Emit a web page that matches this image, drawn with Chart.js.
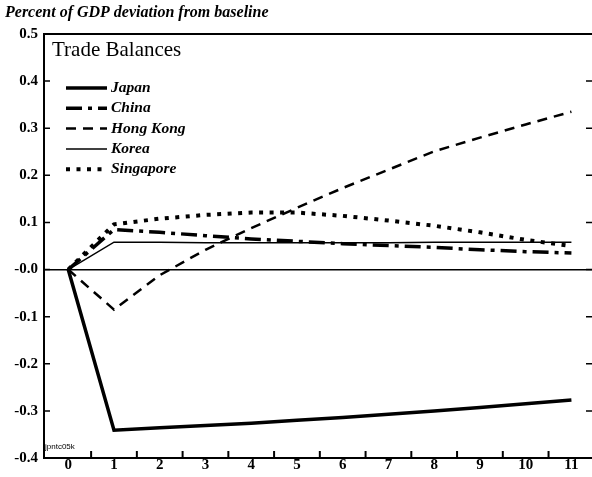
<!DOCTYPE html>
<html><head><meta charset="utf-8">
<script src="https://cdn.jsdelivr.net/npm/chart.js@4/dist/chart.umd.min.js"></script>
<style>html,body{margin:0;padding:0;background:#fff}#wrap{width:592px;height:477px}</style>
</head><body><div id="wrap"><canvas id="c" width="592" height="477"></canvas></div>
<script>
const categories = ['0','1','2','3','4','5','6','7','8','9','10','11'];
const periods = [0,1,2,3,4,5,6,7,8,9,10,11];
const japan     = [0,-0.341,-0.336,-0.331,-0.326,-0.320,-0.314,-0.307,-0.300,-0.293,-0.285,-0.277];
const china     = [0,0.085,0.079,0.072,0.065,0.060,0.055,0.051,0.047,0.042,0.038,0.035];
const hongKong  = [0,-0.085,-0.012,0.042,0.088,0.131,0.173,0.212,0.251,0.280,0.308,0.335];
const korea     = [0,0.058,0.058,0.057,0.057,0.057,0.057,0.057,0.058,0.058,0.058,0.058];
const singapore = [0,0.096,0.108,0.116,0.121,0.121,0.114,0.104,0.093,0.079,0.063,0.050];
const seriesNames = ['Japan','China','Hong Kong','Korea','Singapore'];
const yTickValues = [0.5,0.4,0.3,0.2,0.1,0,-0.1,-0.2,-0.3,-0.4];
const yTickLabels = ['0.5','0.4','0.3','0.2','0.1','-0.0','-0.1','-0.2','-0.3','-0.4'];
const chartTitle = 'Percent of GDP deviation from baseline';
const panelTitle = 'Trade Balances';
const sourceCode = 'jpntc05k';

const styles = [
  {borderWidth:3.5, borderDash:[]},
  {borderWidth:3.5, borderDash:[16,6,4,6]},
  {borderWidth:2.5, borderDash:[10,7]},
  {borderWidth:1.5, borderDash:[]},
  {borderWidth:4, borderDash:[4,6.5]}
];
const seriesData = [japan, china, hongKong, korea, singapore];

const datasets = seriesData.map((d,i)=>({
  label: seriesNames[i],
  data: d,
  borderColor:'#000',
  backgroundColor:'#000',
  borderWidth: styles[i].borderWidth,
  borderDash: styles[i].borderDash,
  pointRadius:0,
  tension:0,
  fill:false
}));

const decor = {
  id:'decor',
  afterDraw(chart){
    const {ctx, chartArea:a, scales:{x,y}} = chart;
    ctx.save();
    ctx.strokeStyle='#000';
    ctx.lineWidth=2;
    ctx.beginPath(); ctx.moveTo(a.left,a.top); ctx.lineTo(a.right,a.top); ctx.stroke();
    ctx.lineWidth=1.5;
    yTickValues.forEach(v=>{
      const py=y.getPixelForValue(v);
      ctx.beginPath();
      ctx.moveTo(a.left,py); ctx.lineTo(a.left+6,py);
      ctx.moveTo(a.right,py); ctx.lineTo(a.right-6,py);
      ctx.stroke();
    });
    ctx.lineWidth=2;
    for(let i=0;i<periods.length-1;i++){
      const px=x.getPixelForValue(periods[i]+0.5);
      ctx.beginPath(); ctx.moveTo(px,a.bottom); ctx.lineTo(px,a.bottom-7); ctx.stroke();
    }
    ctx.fillStyle='#000';
    ctx.textBaseline='alphabetic';
    ctx.font='italic bold 16px "Liberation Serif"';
    ctx.fillText(chartTitle,5,17);
    ctx.font='21px "Liberation Serif"';
    ctx.fillText(panelTitle,a.left+8,a.top+22);
    // legend
    chart.data.datasets.forEach((ds,i)=>{
      const ly = 88 + i*20.3;
      ctx.save();
      ctx.lineWidth = ds.borderWidth;
      ctx.setLineDash(ds.borderDash||[]);
      ctx.beginPath(); ctx.moveTo(66,ly); ctx.lineTo(107,ly); ctx.stroke();
      ctx.restore();
      ctx.font='italic bold 15.5px "Liberation Serif"';
      ctx.textBaseline='middle';
      ctx.fillText(ds.label,111,ly);
    });
    ctx.textBaseline='alphabetic';
    ctx.font='8px "Liberation Sans"';
    ctx.fillText(sourceCode,a.left+1,a.bottom-9);
    ctx.restore();
  }
};

new Chart(document.getElementById('c'),{
  type:'line',
  data:{labels:periods, datasets},
  options:{
    responsive:false, animation:false, devicePixelRatio:1,
    layout:{padding:{top:34,right:0,left:0,bottom:0}},
    plugins:{legend:{display:false},tooltip:{enabled:false},title:{display:false}},
    scales:{
      x:{
        type:'linear', min:-0.53, max:11.45,
        afterBuildTicks(s){ s.ticks = periods.map(v=>({value:v})); },
        afterFit(s){ s.height = 19; },
        grid:{display:false, drawTicks:false, tickLength:0},
        border:{display:true,color:'#000',width:2},
        ticks:{padding:0, color:'#000', font:{family:'"Liberation Serif"', size:15, weight:'bold', lineHeight:1},
          callback:(v,i)=>categories[i], maxRotation:0, autoSkip:false}
      },
      y:{
        min:-0.4, max:0.5,
        afterBuildTicks(s){ s.ticks = yTickValues.map(v=>({value:v})); },
        afterFit(s){ s.width = 44; },
        grid:{display:true, drawTicks:false, tickLength:0,
          color:c=> (c.tick && c.tick.value===0) ? '#000' : 'rgba(0,0,0,0)', lineWidth:1.5},
        border:{display:true,color:'#000',width:2},
        ticks:{padding:6, color:'#000', font:{family:'"Liberation Serif"', size:15, weight:'bold'},
          callback:(v,i)=>yTickLabels[i], autoSkip:false}
      }
    }
  },
  plugins:[decor]
});
</script></body></html>
